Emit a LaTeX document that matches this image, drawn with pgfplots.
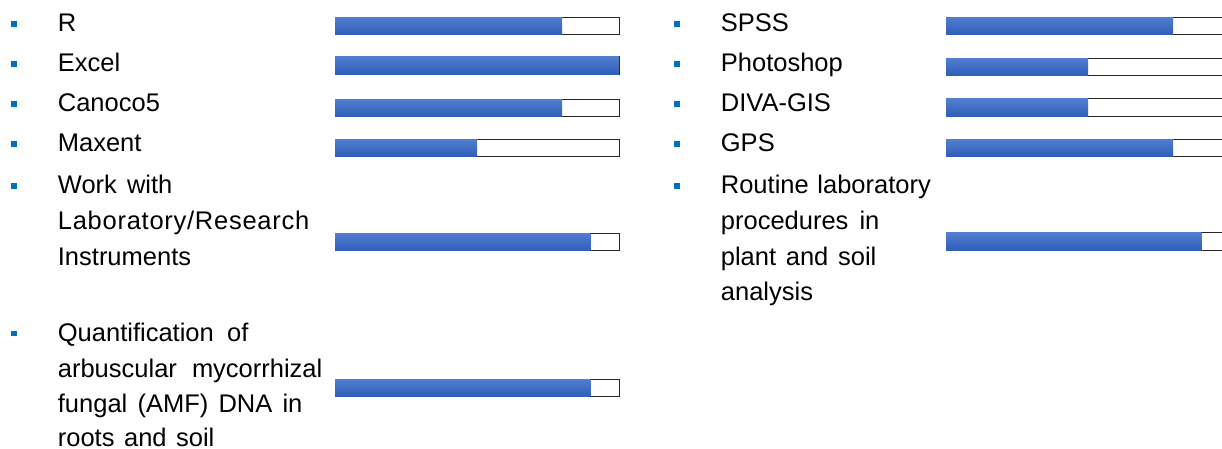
\documentclass[border=0pt]{standalone}
\usepackage{pgfplots}
\pgfplotsset{compat=1.18}
\usepackage{fontspec}
\setmainfont{Liberation Sans}
\newfontfamily\spacedfont[LetterSpace=2.9]{Liberation Sans}
\newlength\px \setlength\px{0.5pt}
\definecolor{bul}{RGB}{0,112,192}
\definecolor{bartop}{RGB}{82,126,208}
\definecolor{barmid}{RGB}{68,114,202}
\definecolor{barbot}{RGB}{46,94,184}
\definecolor{frame}{RGB}{38,38,38}

\pgfplotsset{skill/.style={scale only axis, width=142pt, height=224.5pt,
  xmin=0, xmax=100, ymin=0, ymax=449, y dir=reverse, hide axis, clip=false,
  anchor=north west}}
\tikzset{lab/.style={anchor=base west, inner sep=0pt, font=\fontsize{12.75}{17.75}\selectfont},
  bul/.style={anchor=base west, inner sep=0pt}}
\newcommand\bx{\textcolor{bul}{\rule[5\px]{6\px}{6\px}}}
% one skill bar: value, row position (pixels from top)
\newcommand\track[1]{\addplot[xbar, bar shift=0pt, bar width=8.75pt, fill=white, draw=frame, line width=0.5pt] coordinates {(100,#1)};}
\newcommand\skill[2]{\addplot[xbar, bar shift=0pt, bar width=8.75pt, draw=none, top color=bartop, middle color=barmid, bottom color=barbot] coordinates {(#1,#2)};}

\begin{document}
\begin{tikzpicture}[x=0.5pt,y=-0.5pt]
\path[use as bounding box] (0,0) rectangle (1222,449);
\clip (0,0) rectangle (1222,449);
\begin{axis}[skill, at={(167.5pt,0pt)}]
\track{26}\skill{80}{26}
\track{65.3}\skill{100}{65.3}
\track{108}\skill{80}{108}
\track{148}\skill{50}{148}
\track{242}\skill{90}{242}
\track{388}\skill{90}{388}
\end{axis}
\begin{axis}[skill, at={(473pt,0pt)}]
\track{26}\skill{80}{26}
\track{66.8}\skill{50}{66.8}
\track{107.7}\skill{50}{107.7}
\track{148}\skill{80}{148}
\track{241.7}\skill{90}{241.7}
\end{axis}
% bullets
\foreach \b in {32,72,112,152,194,341.5} {\node[bul] at (11,\b) {\bx};}
\foreach \b in {32,72,112,152,194} {\node[bul] at (674,\b) {\bx};}
% left labels
\node[lab] at (57.5,32) {R};
\node[lab] at (57.5,72) {Excel};
\node[lab] at (57.5,112) {Canoco5};
\node[lab] at (57.5,152) {Maxent};
\node[lab] at (57.5,194) {\makebox[114.5\px][s]{Work with}};
\node[lab] at (57.5,229.5) {\spacedfont Laboratory/Research};
\node[lab] at (57.5,265) {Instruments};
\node[lab] at (57.5,341.5) {\makebox[190.5\px][s]{Quantification of}};
\node[lab] at (57.5,377) {\makebox[264.5\px][s]{arbuscular mycorrhizal}};
\node[lab] at (57.5,412) {\makebox[244.5\px][s]{fungal (AMF) DNA in}};
\node[lab] at (57.5,446) {\makebox[156.5\px][s]{roots and soil}};
% right labels
\node[lab] at (720.5,32) {SPSS};
\node[lab] at (720.5,72) {Photoshop};
\node[lab] at (720.5,112) {DIVA-GIS};
\node[lab] at (720.5,152) {GPS};
\node[lab] at (720.5,194) {\makebox[210\px][s]{Routine laboratory}};
\node[lab] at (720.5,229.5) {\makebox[158.5\px][s]{procedures in}};
\node[lab] at (720.5,265) {\makebox[155.5\px][s]{plant and soil}};
\node[lab] at (720.5,300.5) {analysis};
\end{tikzpicture}
\end{document}
